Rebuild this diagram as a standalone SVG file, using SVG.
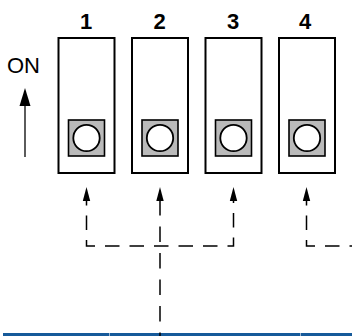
<svg xmlns="http://www.w3.org/2000/svg" xmlns:xlink="http://www.w3.org/1999/xlink" width="352" height="336" viewBox="0 0 352 336">
  <style>
    .body { fill: #ffffff; stroke: #000000; stroke-width: 2; }
    .knob { fill: #bababa; stroke: #000000; stroke-width: 1.6; }
    .dot { fill: #ffffff; stroke: #000000; stroke-width: 1.8; }
    .num { font-family: "Liberation Sans", Arial, sans-serif; font-weight: bold; font-size: 22px; fill: #000000; text-anchor: middle; }
    .on { font-family: "Liberation Sans", Arial, sans-serif; font-size: 22px; fill: #000000; }
    .dash { fill: none; stroke: #000000; stroke-width: 1.5; }
    .head { fill: #000000; }
  </style>
  <defs>
    <path id="ah" d="M0,0 L3.7,14 L-3.7,14 Z"/>
  </defs>

  <rect width="352" height="336" fill="#ffffff"/>

  <g id="on-indicator">
    <text class="on" x="7" y="72.5">ON</text>
    <line x1="25" y1="157" x2="25" y2="103" stroke="#333333" stroke-width="1.6"/>
    <path d="M25,88 L30.5,106 L19.5,106 Z" fill="#000000"/>
  </g>

  <g id="switch-1">
    <text class="num" x="86" y="29">1</text>
    <rect class="body" x="58.5" y="38" width="56" height="135"/>
    <rect class="knob" x="68.5" y="120" width="36" height="36"/>
    <circle class="dot" cx="86.5" cy="138" r="13.2"/>
  </g>
  <g id="switch-2">
    <text class="num" x="159.5" y="29">2</text>
    <rect class="body" x="132" y="38" width="56" height="135"/>
    <rect class="knob" x="142" y="120" width="36" height="36"/>
    <circle class="dot" cx="160" cy="138" r="13.2"/>
  </g>
  <g id="switch-3">
    <text class="num" x="233" y="29">3</text>
    <rect class="body" x="205.5" y="38" width="56" height="135"/>
    <rect class="knob" x="215.5" y="120" width="36" height="36"/>
    <circle class="dot" cx="233.5" cy="138" r="13.2"/>
  </g>
  <g id="switch-4">
    <text class="num" x="305" y="29">4</text>
    <rect class="body" x="279" y="38" width="56" height="135"/>
    <rect class="knob" x="289" y="120" width="36" height="36"/>
    <circle class="dot" cx="307" cy="138" r="13.2"/>
  </g>

  <g id="bottom-bar">
    <rect x="3" y="333" width="349" height="3" fill="#165a9a"/>
    <rect x="109" y="333" width="1" height="3" fill="#9bb6d2"/>
    <rect x="300" y="333" width="1" height="3" fill="#9bb6d2"/>
  </g>

  <g id="connectors">
    <path class="dash" d="M86.5,200 V246 H233.5 V200" stroke-dasharray="14.5 10" stroke-dashoffset="9"/>
    <path class="dash" d="M160,200 V336" stroke-dasharray="15.5 11"/>
    <path class="dash" d="M306.5,200 V246 H352" stroke-dasharray="14.5 10" stroke-dashoffset="9"/>
    <use class="head" xlink:href="#ah" x="86.5" y="187"/>
    <use class="head" xlink:href="#ah" x="160" y="187"/>
    <use class="head" xlink:href="#ah" x="233.5" y="187"/>
    <use class="head" xlink:href="#ah" x="306.5" y="187"/>
  </g>
</svg>
